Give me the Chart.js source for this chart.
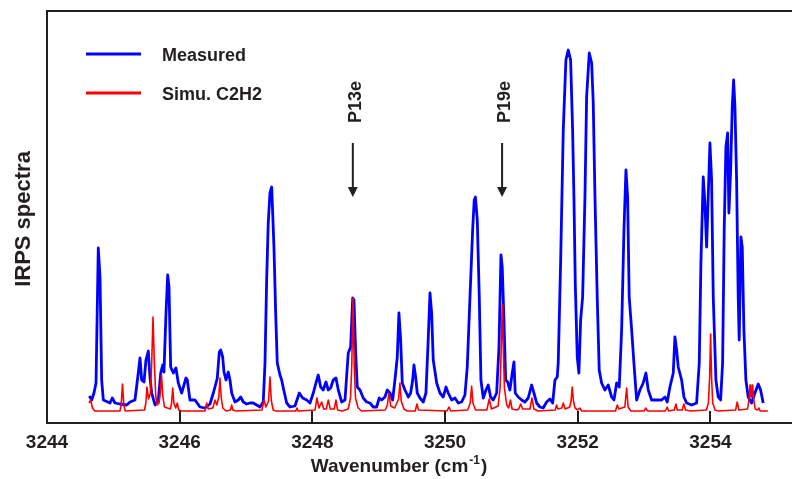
<!DOCTYPE html>
<html><head><meta charset="utf-8">
<script src="https://cdn.jsdelivr.net/npm/chart.js@4"></script>
<style>html,body{margin:0;padding:0;background:#fff;overflow:hidden}</style>
</head><body>
<canvas id="c" width="792" height="479"></canvas>
<script>
// ---------- data ----------
const xTicks = [3244, 3246, 3248, 3250, 3252, 3254];
const seriesNames = ['Measured', 'Simu. C2H2'];
const xTitle = 'Wavenumber (cm';
const xTitleSup = '-1';
const yTitle = 'IRPS spectra';

const blueWn = [3244.638,3244.674,3244.708,3244.739,3244.773,3244.799,3244.824,3244.849,3244.950,3244.984,3245.025,3245.100,3245.201,3245.251,3245.326,3245.376,3245.402,3245.427,3245.462,3245.492,3245.527,3245.552,3245.578,3245.628,3245.678,3245.714,3245.744,3245.763,3245.794,3245.819,3245.839,3245.864,3245.904,3245.944,3245.979,3246.030,3246.095,3246.115,3246.155,3246.231,3246.306,3246.381,3246.457,3246.507,3246.532,3246.567,3246.597,3246.618,3246.648,3246.668,3246.698,3246.733,3246.758,3246.784,3246.834,3246.883,3246.920,3246.959,3247.010,3247.060,3247.109,3247.161,3247.210,3247.260,3247.286,3247.311,3247.335,3247.361,3247.387,3247.402,3247.421,3247.447,3247.471,3247.512,3247.537,3247.562,3247.613,3247.663,3247.738,3247.803,3247.854,3247.914,3247.964,3248.014,3248.054,3248.089,3248.125,3248.164,3248.205,3248.240,3248.276,3248.315,3248.356,3248.391,3248.442,3248.492,3248.541,3248.577,3248.608,3248.627,3248.653,3248.677,3248.718,3248.767,3248.819,3248.868,3248.918,3248.969,3249.008,3249.045,3249.094,3249.129,3249.170,3249.210,3249.245,3249.280,3249.305,3249.331,3249.355,3249.396,3249.446,3249.482,3249.512,3249.531,3249.557,3249.581,3249.622,3249.672,3249.712,3249.742,3249.773,3249.798,3249.822,3249.874,3249.923,3249.973,3250.014,3250.048,3250.100,3250.149,3250.199,3250.250,3250.300,3250.335,3250.376,3250.416,3250.440,3250.458,3250.486,3250.516,3250.541,3250.576,3250.617,3250.651,3250.687,3250.727,3250.778,3250.813,3250.843,3250.862,3250.888,3250.914,3250.944,3250.978,3251.013,3251.039,3251.058,3251.103,3251.155,3251.204,3251.254,3251.305,3251.340,3251.381,3251.430,3251.480,3251.531,3251.581,3251.622,3251.657,3251.691,3251.706,3251.742,3251.782,3251.822,3251.857,3251.893,3251.923,3251.943,3251.963,3251.993,3252.018,3252.044,3252.074,3252.109,3252.134,3252.174,3252.210,3252.234,3252.260,3252.294,3252.324,3252.360,3252.410,3252.460,3252.511,3252.546,3252.587,3252.626,3252.662,3252.697,3252.727,3252.752,3252.776,3252.813,3252.847,3252.888,3252.938,3252.987,3253.028,3253.063,3253.114,3253.189,3253.265,3253.315,3253.349,3253.390,3253.440,3253.465,3253.491,3253.515,3253.566,3253.601,3253.642,3253.717,3253.792,3253.832,3253.857,3253.892,3253.917,3253.943,3253.967,3253.993,3254.018,3254.043,3254.083,3254.118,3254.154,3254.184,3254.208,3254.234,3254.260,3254.279,3254.305,3254.329,3254.350,3254.370,3254.395,3254.419,3254.434,3254.460,3254.480,3254.505,3254.535,3254.570,3254.621,3254.671,3254.721,3254.757,3254.796];
const blueI = [27,23,30,40,175,146,43,23,20,25,20,19,18,21,23,50,65,43,41,63,72,46,30,18,23,50,58,51,110,148,136,56,50,55,40,30,45,43,23,23,16,15,19,30,36,45,71,73,66,51,43,51,43,30,21,23,26,21,19,20,20,18,16,21,60,143,200,230,236,210,176,110,60,48,43,35,20,16,17,30,25,23,20,30,40,48,36,33,41,33,35,43,45,33,21,23,70,76,125,123,70,36,33,25,21,20,16,16,25,23,26,33,30,23,43,66,110,83,40,33,26,30,43,58,46,30,25,21,30,76,130,110,63,40,30,26,36,30,23,25,20,21,28,56,126,193,223,226,203,126,43,25,33,38,26,23,30,76,168,156,103,43,41,33,50,61,30,26,23,21,25,38,30,20,16,15,21,24,20,43,46,60,160,293,363,373,363,293,226,140,66,50,103,126,226,326,370,360,320,226,126,53,40,33,38,26,23,40,36,93,193,253,226,126,93,60,23,33,40,50,33,23,23,23,26,21,36,50,86,73,56,43,26,20,18,20,60,160,246,220,176,226,280,243,126,43,26,23,60,193,276,290,210,253,316,343,316,243,126,83,186,176,93,43,26,20,30,39,33,20];

const redWn = [3244.633,3244.659,3244.685,3244.720,3245.100,3245.118,3245.138,3245.158,3245.180,3245.470,3245.490,3245.507,3245.530,3245.560,3245.578,3245.598,3245.618,3245.640,3245.660,3245.690,3245.708,3245.726,3245.744,3245.770,3245.860,3245.878,3245.895,3245.912,3245.940,3245.964,3245.985,3246.030,3246.380,3246.407,3246.430,3246.500,3246.532,3246.560,3246.590,3246.607,3246.625,3246.650,3246.700,3246.765,3246.784,3246.800,3246.850,3247.240,3247.271,3247.300,3247.340,3247.361,3247.382,3247.410,3247.450,3247.750,3247.768,3247.785,3248.040,3248.069,3248.100,3248.140,3248.170,3248.210,3248.240,3248.270,3248.330,3248.356,3248.380,3248.450,3248.540,3248.575,3248.595,3248.612,3248.630,3248.650,3248.690,3248.740,3249.100,3249.130,3249.155,3249.180,3249.240,3249.300,3249.320,3249.340,3249.380,3249.430,3249.550,3249.577,3249.600,3250.030,3250.059,3250.085,3250.340,3250.380,3250.401,3250.420,3250.460,3250.630,3250.666,3250.700,3250.800,3250.830,3250.845,3250.862,3250.880,3250.895,3250.930,3250.960,3250.986,3251.010,3251.080,3251.110,3251.140,3251.170,3251.280,3251.310,3251.340,3251.400,3251.660,3251.682,3251.700,3251.760,3251.782,3251.810,3251.880,3251.900,3251.917,3251.935,3251.960,3252.000,3252.033,3252.060,3252.570,3252.596,3252.620,3252.710,3252.737,3252.760,3252.800,3253.000,3253.028,3253.050,3253.320,3253.349,3253.370,3253.455,3253.480,3253.500,3253.575,3253.601,3253.625,3253.700,3253.940,3253.970,3253.988,3254.003,3254.018,3254.035,3254.070,3254.120,3254.380,3254.404,3254.430,3254.560,3254.585,3254.597,3254.610,3254.625,3254.638,3254.650,3254.675,3254.710,3254.731,3254.750,3254.867];
const redI = [20,23,15,12,12,18,39,18,12,13,20,36,24,30,60,106,60,26,18,20,30,48,28,16,14,20,35,20,15,20,13,12,12,20,14,15,23,18,26,45,26,15,12,13,18,13,12,13,23,16,22,46,22,13,12,12,15,12,13,25,15,21,14,14,23,14,14,23,13,12,14,25,60,125,60,25,15,12,13,18,30,17,15,24,40,22,14,12,12,19,13,12,16,12,13,20,37,20,13,13,24,14,17,35,70,118,70,35,18,15,23,14,13,14,19,14,14,25,14,12,13,18,14,15,20,14,16,22,36,22,15,13,15,12,12,18,14,16,35,16,12,12,15,12,12,16,12,13,19,13,13,19,13,12,13,20,45,89,45,20,13,12,13,21,13,14,25,38,26,26,38,25,14,13,15,12,12];

const markWn = [3248.61, 3250.86];
const markLabels = ['P13e', 'P19e'];
const markTextI = 321;
const arrowTopI = 280;
const arrowTipI = 226;

// ---------- chart ----------
const FONT = '"Liberation Sans", Arial, sans-serif';
const INK = '#231f20';
const BLUE = '#0000ff';
const RED = '#ff0000';

const decor = {
  id: 'decor',
  afterDatasetsDraw(chart) {
    const { ctx, chartArea: a, scales: { x, y } } = chart;
    ctx.save();
    ctx.strokeStyle = INK; ctx.lineWidth = 2; ctx.lineCap = 'butt';
    ctx.beginPath();
    ctx.moveTo(a.right, a.top); ctx.lineTo(a.left, a.top);
    ctx.lineTo(a.left, a.bottom); ctx.lineTo(a.right, a.bottom);
    ctx.stroke();
    xTicks.forEach(v => {
      const px = Math.round(x.getPixelForValue(v));
      ctx.beginPath(); ctx.moveTo(px, a.bottom); ctx.lineTo(px, a.bottom - 12); ctx.stroke();
    });
    const legendColors = [BLUE, RED];
    ctx.font = 'bold 18px ' + FONT;
    ctx.textAlign = 'left'; ctx.textBaseline = 'alphabetic';
    seriesNames.forEach((n, i) => {
      const yy = 54 + i * 39;
      ctx.strokeStyle = legendColors[i]; ctx.lineWidth = 3;
      ctx.beginPath(); ctx.moveTo(86, yy); ctx.lineTo(141, yy); ctx.stroke();
      ctx.fillStyle = INK;
      ctx.fillText(n, 162, yy + 7);
    });
    ctx.fillStyle = INK; ctx.strokeStyle = INK;
    markWn.forEach((w, i) => {
      const px = x.getPixelForValue(w);
      const ty = y.getPixelForValue(markTextI);
      ctx.save();
      ctx.translate(px + 8, ty);
      ctx.rotate(-Math.PI / 2);
      ctx.font = 'bold 18px ' + FONT;
      ctx.textAlign = 'center'; ctx.textBaseline = 'alphabetic';
      ctx.fillText(markLabels[i], 0, 0);
      ctx.restore();
      const y0 = y.getPixelForValue(arrowTopI), y1 = y.getPixelForValue(arrowTipI);
      ctx.lineWidth = 2;
      ctx.beginPath(); ctx.moveTo(px, y0); ctx.lineTo(px, y1 - 8); ctx.stroke();
      ctx.beginPath(); ctx.moveTo(px - 5, y1 - 10); ctx.lineTo(px + 5, y1 - 10); ctx.lineTo(px, y1); ctx.closePath(); ctx.fill();
    });
    ctx.restore();
  },
  afterDraw(chart) {
    const { ctx, chartArea: a } = chart;
    ctx.save();
    ctx.fillStyle = INK;
    ctx.save();
    ctx.translate(30, (a.top + a.bottom) / 2 + 2);
    ctx.rotate(-Math.PI / 2);
    ctx.font = 'bold 22px ' + FONT;
    ctx.textAlign = 'center'; ctx.textBaseline = 'alphabetic';
    ctx.fillText(yTitle, 0, 0);
    ctx.restore();
    ctx.font = 'bold 19px ' + FONT;
    const w1 = ctx.measureText(xTitle).width;
    ctx.font = 'bold 12px ' + FONT;
    const w2 = ctx.measureText(xTitleSup).width;
    ctx.font = 'bold 19px ' + FONT;
    const w3 = ctx.measureText(')').width;
    const total = w1 + w2 + 2 + w3;
    const sx = 399 - total / 2;
    const base = 472;
    ctx.textAlign = 'left'; ctx.textBaseline = 'alphabetic';
    ctx.fillText(xTitle, sx, base);
    ctx.font = 'bold 12px ' + FONT;
    ctx.fillText(xTitleSup, sx + w1 + 1, base - 8);
    ctx.font = 'bold 19px ' + FONT;
    ctx.fillText(')', sx + w1 + w2 + 2, base);
    ctx.restore();
  }
};

new Chart(document.getElementById('c'), {
  type: 'line',
  data: {
    datasets: [
      {
        label: seriesNames[0],
        data: blueWn.map((w, i) => ({ x: w, y: blueI[i] })),
        borderColor: BLUE, borderWidth: 2.8, pointRadius: 0,
        tension: 0, fill: false, order: 1, borderJoinStyle: 'round'
      },
      {
        label: seriesNames[1],
        data: redWn.map((w, i) => ({ x: w, y: redI[i] })),
        borderColor: RED, borderWidth: 1.6, pointRadius: 0,
        tension: 0, fill: false, order: 0, borderJoinStyle: 'round'
      }
    ]
  },
  options: {
    responsive: false,
    animation: false,
    devicePixelRatio: 1,
    layout: { padding: { left: 47, top: 11, right: 0, bottom: 0 } },
    plugins: { legend: { display: false }, tooltip: { enabled: false } },
    scales: {
      x: {
        type: 'linear', min: 3244, max: 3255.23,
        afterBuildTicks: s => { s.ticks = xTicks.map(v => ({ value: v })); },
        afterFit: s => { s.height = 56; },
        grid: { display: false, drawTicks: false },
        border: { display: false },
        ticks: {
          autoSkip: false, maxRotation: 0, padding: 8,
          color: INK, font: { family: FONT, size: 19, weight: 'bold' },
          callback: v => String(v)
        }
      },
      y: { display: false, min: 0, max: 412 }
    }
  },
  plugins: [decor]
});
</script>
</body></html>
